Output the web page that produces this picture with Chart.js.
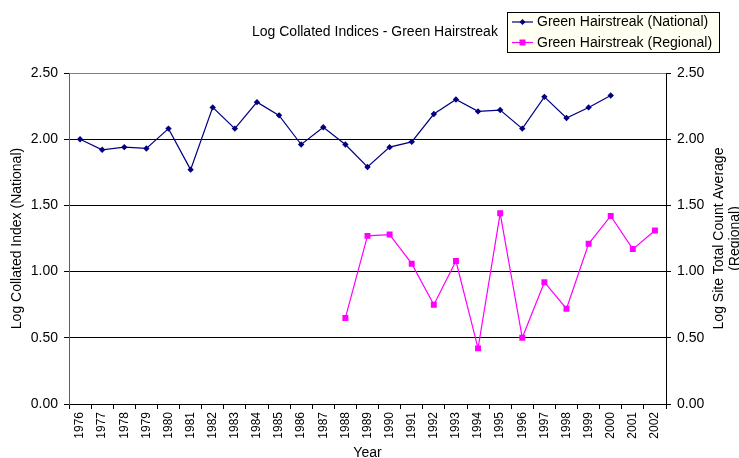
<!DOCTYPE html>
<html>
<head>
<meta charset="utf-8">
<script src="https://cdn.jsdelivr.net/npm/chart.js@4"></script>
<style>
  html, body { margin: 0; padding: 0; background: #fff; }
  #wrap { position: relative; width: 739px; height: 458px; }
</style>
</head>
<body>
<div id="wrap"><canvas id="c" width="739" height="458"></canvas></div>
<script>
const years = ['1976','1977','1978','1979','1980','1981','1982','1983','1984','1985','1986','1987','1988','1989','1990','1991','1992','1993','1994','1995','1996','1997','1998','1999','2000','2001','2002'];
const nationalValues = [2.00,1.92,1.94,1.93,2.08,1.77,2.24,2.08,2.28,2.18,1.96,2.09,1.96,1.79,1.94,1.98,2.19,2.30,2.21,2.22,2.08,2.32,2.16,2.24,2.33,null,null];
const regionalValues = [null,null,null,null,null,null,null,null,null,null,null,null,0.65,1.27,1.28,1.06,0.75,1.08,0.42,1.44,0.50,0.92,0.72,1.21,1.42,1.17,1.31];
const yTicks = [0, 0.5, 1.0, 1.5, 2.0, 2.5];
const chartTitle = 'Log Collated Indices - Green Hairstreak';
const seriesNames = ['Green Hairstreak (National)', 'Green Hairstreak (Regional)'];
const leftTitle = 'Log Collated Index (National)';
const rightTitle = ['Log Site Total Count Average', '(Regional)'];
const xTitle = 'Year';

const FONT = '"Liberation Sans", Arial, sans-serif';
const NAVY = '#000080';
const MAGENTA = '#FF00FF';

const decor = {
  id: 'decor',
  afterDraw(chart) {
    const ctx = chart.ctx;
    ctx.save();
    // Title
    ctx.font = '14px ' + FONT;
    ctx.fillStyle = '#000';
    ctx.textAlign = 'left';
    ctx.textBaseline = 'middle';
    ctx.fillText(chartTitle, 252, 32.5);
    // Legend box
    ctx.fillStyle = '#FFFFF2';
    ctx.fillRect(507.5, 12.5, 212, 40);
    ctx.strokeStyle = '#000';
    ctx.lineWidth = 1;
    ctx.strokeRect(507.5, 12.5, 212, 40);
    const rows = [
      {y: 22, color: NAVY, shape: 'diamond'},
      {y: 42.5, color: MAGENTA, shape: 'square'}
    ];
    rows.forEach((r, i) => {
      ctx.strokeStyle = r.color;
      ctx.lineWidth = 1.2;
      ctx.beginPath();
      ctx.moveTo(512, r.y);
      ctx.lineTo(533, r.y);
      ctx.stroke();
      ctx.fillStyle = r.color;
      ctx.beginPath();
      if (r.shape === 'diamond') {
        ctx.moveTo(522.5, r.y - 3);
        ctx.lineTo(525.5, r.y);
        ctx.lineTo(522.5, r.y + 3);
        ctx.lineTo(519.5, r.y);
        ctx.closePath();
      } else {
        ctx.rect(519.5, r.y - 3, 6, 6);
      }
      ctx.fill();
      ctx.fillStyle = '#000';
      ctx.font = '14px ' + FONT;
      ctx.textAlign = 'left';
      ctx.textBaseline = 'middle';
      ctx.fillText(seriesNames[i], 537, r.y + 0.5);
    });
    // Right axis title (reads bottom-to-top)
    const ca = chart.chartArea;
    const cy = (ca.top + ca.bottom) / 2;
    ctx.translate(719.5, cy);
    ctx.rotate(-Math.PI / 2);
    ctx.textAlign = 'center';
    ctx.textBaseline = 'middle';
    ctx.fillStyle = '#000';
    ctx.font = '14px ' + FONT;
    ctx.fillText(rightTitle[0], 0, 0);
    ctx.fillText(rightTitle[1], 0, 16);
    ctx.restore();
  }
};

new Chart(document.getElementById('c'), {
  type: 'line',
  data: {
    labels: years,
    datasets: [
      {
        label: seriesNames[0],
        data: nationalValues,
        borderColor: NAVY,
        backgroundColor: NAVY,
        borderWidth: 1.2,
        pointStyle: 'rectRot',
        pointRadius: 3.2,
        pointBorderWidth: 0,
        tension: 0,
        yAxisID: 'y'
      },
      {
        label: seriesNames[1],
        data: regionalValues,
        borderColor: MAGENTA,
        backgroundColor: MAGENTA,
        borderWidth: 1.2,
        pointStyle: 'rect',
        pointRadius: 4.2,
        pointBorderWidth: 0,
        tension: 0,
        yAxisID: 'y2'
      }
    ]
  },
  options: {
    responsive: false,
    animation: false,
    devicePixelRatio: 1,
    layout: { padding: { top: 73, left: 0, right: 0, bottom: 0 } },
    plugins: {
      legend: { display: false },
      title: { display: false },
      tooltip: { enabled: false }
    },
    scales: {
      x: {
        type: 'category',
        offset: true,
        afterFit: s => { s.height = 54; },
        grid: {
          offset: true,
          drawOnChartArea: false,
          drawTicks: true,
          tickLength: 5,
          tickColor: '#000',
          color: '#000'
        },
        border: { color: '#000', width: 1 },
        ticks: {
          autoSkip: false,
          minRotation: 90,
          maxRotation: 90,
          padding: 3,
          color: '#000',
          font: { family: FONT, size: 12 }
        },
        title: {
          display: true,
          text: xTitle,
          color: '#000',
          font: { family: FONT, size: 14 },
          padding: { top: 0, bottom: -4 }
        }
      },
      y: {
        position: 'left',
        min: 0,
        max: 2.5,
        afterFit: s => { s.width = 69; },
        afterBuildTicks: s => { s.ticks = yTicks.map(v => ({ value: v })); },
        grid: {
          drawTicks: true,
          tickLength: 5,
          tickColor: '#000',
          color: c => (c.tick && c.tick.value === 2.5) ? '#808080' : '#000',
          lineWidth: 1
        },
        border: { color: '#606060', width: 1 },
        ticks: {
          padding: 6,
          color: '#000',
          font: { family: FONT, size: 14 },
          callback: v => Number(v).toFixed(2)
        },
        title: {
          display: true,
          text: leftTitle,
          color: '#000',
          font: { family: FONT, size: 14 },
          padding: { top: 9, bottom: 0 }
        }
      },
      y2: {
        position: 'right',
        min: 0,
        max: 2.5,
        afterFit: s => { s.width = 73; },
        afterBuildTicks: s => { s.ticks = yTicks.map(v => ({ value: v })); },
        grid: {
          drawOnChartArea: false,
          drawTicks: true,
          tickLength: 5,
          tickColor: '#000'
        },
        border: { color: '#000', width: 1 },
        ticks: {
          padding: 6,
          color: '#000',
          font: { family: FONT, size: 14 },
          callback: v => Number(v).toFixed(2)
        }
      }
    }
  },
  plugins: [decor]
});
</script>
</body>
</html>
